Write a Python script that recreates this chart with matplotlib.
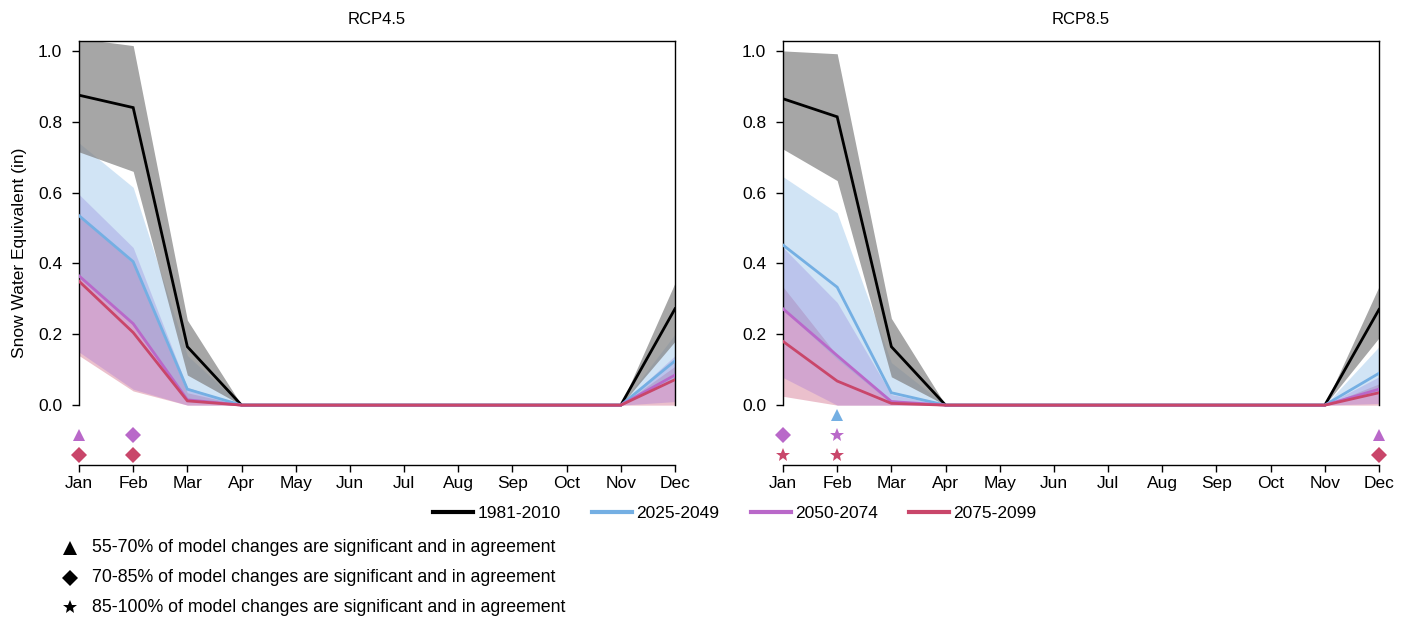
import matplotlib
matplotlib.use("Agg")
import matplotlib.pyplot as plt
from matplotlib.lines import Line2D
import numpy as np

plt.rcParams['font.family'] = ['Liberation Sans', 'DejaVu Sans']

months = ["Jan", "Feb", "Mar", "Apr", "May", "Jun", "Jul", "Aug", "Sep", "Oct", "Nov", "Dec"]
periods = ["1981-2010", "2025-2049", "2050-2074", "2075-2099"]
scenarios = ["RCP4.5", "RCP8.5"]

# ---- RCP4.5 ----
r45_hist_mean = [0.875, 0.84, 0.165, 0, 0, 0, 0, 0, 0, 0, 0, 0.272]
r45_hist_lo   = [0.715, 0.66, 0.085, 0, 0, 0, 0, 0, 0, 0, 0, 0.18]
r45_hist_hi   = [1.035, 1.015, 0.24, 0, 0, 0, 0, 0, 0, 0, 0, 0.345]
r45_e_mean = [0.535, 0.405, 0.045, 0, 0, 0, 0, 0, 0, 0, 0, 0.125]
r45_e_lo   = [0.36, 0.225, 0.01, 0, 0, 0, 0, 0, 0, 0, 0, 0.07]
r45_e_hi   = [0.74, 0.615, 0.14, 0, 0, 0, 0, 0, 0, 0, 0, 0.2]
r45_m_mean = [0.365, 0.23, 0.015, 0, 0, 0, 0, 0, 0, 0, 0, 0.085]
r45_m_lo   = [0.15, 0.045, 0.0, 0, 0, 0, 0, 0, 0, 0, 0, 0.01]
r45_m_hi   = [0.595, 0.445, 0.05, 0, 0, 0, 0, 0, 0, 0, 0, 0.14]
r45_l_mean = [0.35, 0.205, 0.012, 0, 0, 0, 0, 0, 0, 0, 0, 0.072]
r45_l_lo   = [0.14, 0.04, 0.0, 0, 0, 0, 0, 0, 0, 0, 0, 0.0]
r45_l_hi   = [0.54, 0.40, 0.035, 0, 0, 0, 0, 0, 0, 0, 0, 0.11]

# ---- RCP8.5 ----
r85_hist_mean = [0.865, 0.814, 0.165, 0, 0, 0, 0, 0, 0, 0, 0, 0.27]
r85_hist_lo   = [0.723, 0.634, 0.08, 0, 0, 0, 0, 0, 0, 0, 0, 0.19]
r85_hist_hi   = [1.0, 0.992, 0.245, 0, 0, 0, 0, 0, 0, 0, 0, 0.335]
r85_e_mean = [0.452, 0.333, 0.035, 0, 0, 0, 0, 0, 0, 0, 0, 0.09]
r85_e_lo   = [0.27, 0.13, 0.005, 0, 0, 0, 0, 0, 0, 0, 0, 0.04]
r85_e_hi   = [0.645, 0.543, 0.12, 0, 0, 0, 0, 0, 0, 0, 0, 0.165]
r85_m_mean = [0.272, 0.14, 0.01, 0, 0, 0, 0, 0, 0, 0, 0, 0.045]
r85_m_lo   = [0.078, 0.0, 0.0, 0, 0, 0, 0, 0, 0, 0, 0, 0.005]
r85_m_hi   = [0.445, 0.29, 0.03, 0, 0, 0, 0, 0, 0, 0, 0, 0.08]
r85_l_mean = [0.18, 0.068, 0.005, 0, 0, 0, 0, 0, 0, 0, 0, 0.035]
r85_l_lo   = [0.025, 0.0, 0.0, 0, 0, 0, 0, 0, 0, 0, 0, 0.0]
r85_l_hi   = [0.334, 0.14, 0.015, 0, 0, 0, 0, 0, 0, 0, 0, 0.06]

# significance markers: (month index, period index 1..3, marker)
r45_sig = [(0, 2, "^"), (0, 3, "D"), (1, 2, "D"), (1, 3, "D")]
r85_sig = [(0, 2, "D"), (0, 3, "*"), (1, 1, "^"), (1, 2, "*"), (1, 3, "*"),
           (11, 2, "^"), (11, 3, "D")]

sig_labels = ["55-70% of model changes are significant and in agreement",
              "70-85% of model changes are significant and in agreement",
              "85-100% of model changes are significant and in agreement"]
sig_markers = ["^", "D", "*"]

line_colors = ["#000000", "#74afe3", "#b968c9", "#c9466a"]
fill_colors = ["#808080", "#74afe3", "#a070d7", "#c54064"]
fill_alpha = [0.7, 0.33, 0.33, 0.33]
sig_rows = {1: -0.028, 2: -0.085, 3: -0.141}

data = {
    "RCP4.5": dict(
        mean=[r45_hist_mean, r45_e_mean, r45_m_mean, r45_l_mean],
        lo=[r45_hist_lo, r45_e_lo, r45_m_lo, r45_l_lo],
        hi=[r45_hist_hi, r45_e_hi, r45_m_hi, r45_l_hi],
        sig=r45_sig),
    "RCP8.5": dict(
        mean=[r85_hist_mean, r85_e_mean, r85_m_mean, r85_l_mean],
        lo=[r85_hist_lo, r85_e_lo, r85_m_lo, r85_l_lo],
        hi=[r85_hist_hi, r85_e_hi, r85_m_hi, r85_l_hi],
        sig=r85_sig),
}

W, H = 1413, 619
fig = plt.figure(figsize=(W / 100, H / 100), dpi=100)

ytop, ybot = 1.028, -0.169
lefts = [79, 783]
x = np.arange(12)
fs = 12.5

for k, sc in enumerate(scenarios):
    ax = fig.add_axes([lefts[k] / W, 1 - 465 / H, 596 / W, 424 / H])
    d = data[sc]
    for i in [3, 2, 1, 0]:
        ax.fill_between(x, d["lo"][i], d["hi"][i], color=fill_colors[i],
                        alpha=fill_alpha[i], linewidth=0, zorder=1 + (3 - i) * 0.1)
    for i in range(4):
        ax.plot(x, d["mean"][i], color=line_colors[i], lw=2.0, zorder=3 + i * 0.1,
                solid_joinstyle="miter")
    for (m, p, mk) in d["sig"]:
        ms = 10 if mk == "*" else (8 if mk == "D" else 9)
        ax.plot([m], [sig_rows[p]], marker=mk, color=line_colors[p], ms=ms,
                linestyle="none", markeredgewidth=0, clip_on=False, zorder=5)
    ax.set_xlim(0, 11)
    ax.set_ylim(ybot, ytop)
    ax.spines['left'].set_bounds(0, ytop)
    ax.spines['right'].set_bounds(0, ytop)
    for s in ax.spines.values():
        s.set_linewidth(1.0)
    ax.set_yticks([0, 0.2, 0.4, 0.6, 0.8, 1.0])
    ax.set_yticklabels(["0.0", "0.2", "0.4", "0.6", "0.8", "1.0"])
    ax.set_xticks(x)
    ax.set_xticklabels(months)
    ax.tick_params(axis="y", direction="out", length=5, width=1.0,
                   labelsize=fs, pad=7)
    ax.tick_params(axis="x", direction="out", length=5, width=1.0,
                   labelsize=fs, pad=3)
    ax.set_title(sc, fontsize=12, pad=12)
    if k == 0:
        ax.set_ylabel("Snow Water Equivalent (in)", fontsize=fs, labelpad=8)

handles = [Line2D([0], [0], color=line_colors[i], lw=3) for i in range(4)]
fig.legend(handles, periods, loc="center", bbox_to_anchor=(735 / W, 1 - 513 / H),
           ncol=4, frameon=False, fontsize=fs, handlelength=2.3,
           handletextpad=0.25, columnspacing=1.8)

rows_y = [548, 578, 607]
for mk, lab, yy in zip(sig_markers, sig_labels, rows_y):
    ms = 10 if mk == "*" else (8.5 if mk == "D" else 9.5)
    fig.add_artist(Line2D([70 / W], [1 - yy / H], marker=mk, color="black", ms=ms,
                          markeredgewidth=0, linestyle="none",
                          transform=fig.transFigure))
    fig.text(92 / W, 1 - yy / H, lab, fontsize=12.8, va="center", ha="left")

fig.savefig("out.png", dpi=100)
